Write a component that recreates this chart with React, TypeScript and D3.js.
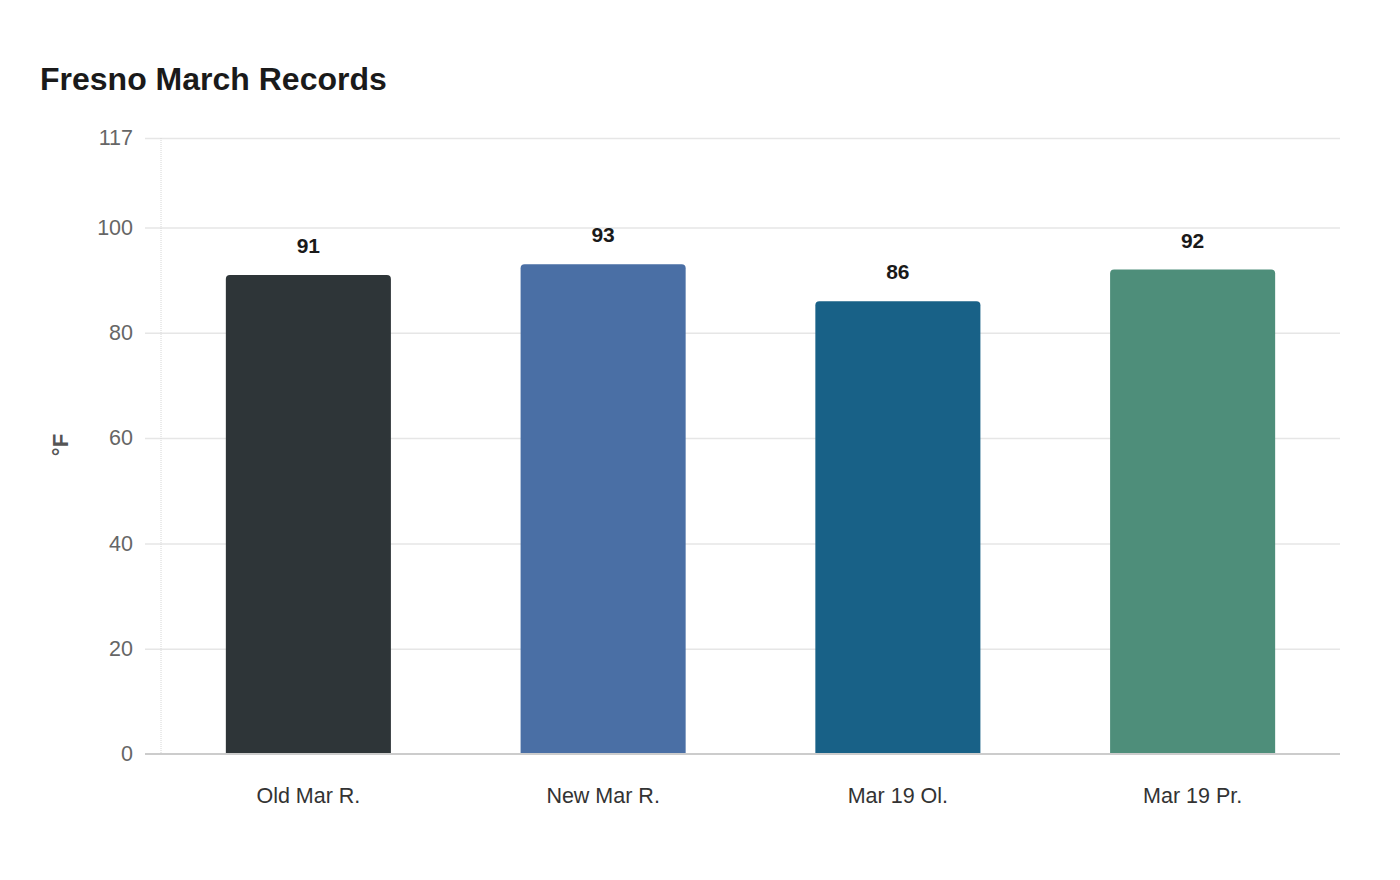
import React, { useEffect, useRef } from "react";
import * as d3 from "d3";

const categories = ["Old Mar R.", "New Mar R.", "Mar 19 Ol.", "Mar 19 Pr."];
const temps = [91, 93, 86, 92];
const barColors = ["#2e3538", "#4a6fa5", "#186187", "#4e8e7a"];
const yTicks = [0, 20, 40, 60, 80, 100, 117];

const W = 1400;
const H = 880;
const margin = { top: 138, right: 60, bottom: 126, left: 161 };

const topRoundedRect = (x: number, y: number, w: number, h: number, r: number) =>
  `M${x},${y + h}V${y + r}Q${x},${y} ${x + r},${y}H${x + w - r}Q${x + w},${y} ${x + w},${y + r}V${y + h}Z`;

export default function App() {
  const ref = useRef<SVGSVGElement>(null);

  useEffect(() => {
    const svg = d3.select(ref.current);
    svg.selectAll("*").remove();
    const width = W - margin.left - margin.right;
    const height = H - margin.top - margin.bottom;
    const font = "'Liberation Sans', Arial, sans-serif";

    const x = d3.scaleBand().domain(categories).range([0, width]).paddingInner(0.44).paddingOuter(0.22);
    const y = d3.scaleLinear().domain([0, 117]).range([height, 0]);

    svg
      .append("text")
      .attr("x", 40)
      .attr("y", 90)
      .attr("font-family", font)
      .attr("font-size", 32)
      .attr("font-weight", "bold")
      .attr("fill", "#1a1a1a")
      .text("Fresno March Records");

    const g = svg.append("g").attr("transform", `translate(${margin.left},${margin.top})`);

    // gridlines + tick labels
    const yAxis = g
      .append("g")
      .call(d3.axisLeft(y).tickValues(yTicks).tickSize(-width - 16).tickPadding(12))
      .attr("transform", "translate(-16,0)");
    yAxis.select(".domain").remove();
    yAxis.selectAll(".tick line").attr("stroke", "#e6e6e6").attr("stroke-width", 1.5);
    yAxis
      .selectAll(".tick text")
      .attr("font-family", font)
      .attr("font-size", 21.5)
      .attr("fill", "#666");
    yAxis.selectAll(".tick").filter((d: any) => d === 0).select("line").remove();

    // vertical axis line
    g.append("line")
      .attr("x1", 0)
      .attr("x2", 0)
      .attr("y1", 0)
      .attr("y2", height)
      .attr("stroke", "#d6d6d6")
      .attr("stroke-dasharray", "1,1");

    g.selectAll(".bar")
      .data(temps)
      .enter()
      .append("path")
      .attr("d", (d, i) => topRoundedRect(x(categories[i])!, y(d), x.bandwidth(), height - y(d), 4))
      .attr("fill", (_, i) => barColors[i]);

    g.selectAll(".val")
      .data(temps)
      .enter()
      .append("text")
      .attr("x", (_, i) => x(categories[i])! + x.bandwidth() / 2)
      .attr("y", (d) => y(d) - 22)
      .attr("text-anchor", "middle")
      .attr("font-family", font)
      .attr("font-size", 21)
      .attr("font-weight", "bold")
      .attr("fill", "#1a1a1a")
      .text((d) => d);

    // baseline
    g.append("line")
      .attr("x1", -16)
      .attr("x2", width)
      .attr("y1", height)
      .attr("y2", height)
      .attr("stroke", "#cccccc")
      .attr("stroke-width", 2);

    const xAxis = g
      .append("g")
      .attr("transform", `translate(0,${height})`)
      .call(d3.axisBottom(x).tickSize(0).tickPadding(34));
    xAxis.select(".domain").remove();
    xAxis
      .selectAll(".tick text")
      .attr("font-family", font)
      .attr("font-size", 21.5)
      .attr("fill", "#333");

    svg
      .append("text")
      .attr("transform", `translate(68,445) rotate(-90)`)
      .attr("text-anchor", "middle")
      .attr("font-family", font)
      .attr("font-size", 22)
      .attr("font-weight", "bold")
      .attr("fill", "#555")
      .text("°F");
  }, []);

  return <svg ref={ref} width={W} height={H} style={{ display: "block", margin: -8 }} />;
}
